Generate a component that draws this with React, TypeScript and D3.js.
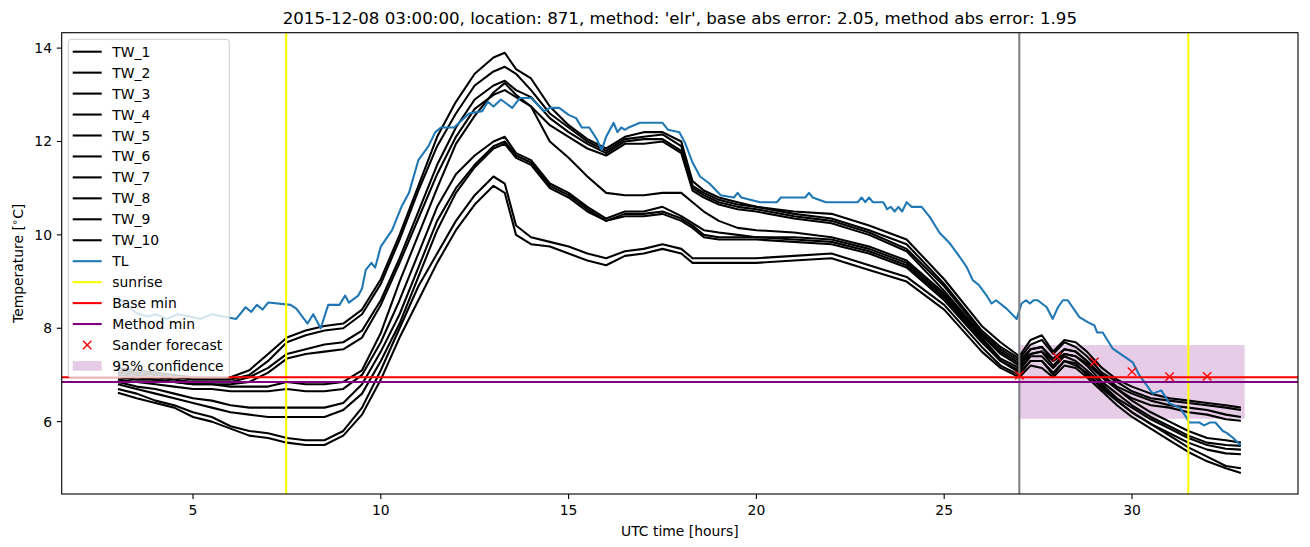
import React from "react";
import * as d3 from "d3";

// ---------- data ----------
const hours = [
  3, 3.5, 4, 4.5, 5, 5.5, 6, 6.5, 7, 7.5,
  8, 8.5, 9, 9.5, 10, 10.5, 11, 11.5, 12, 12.5,
  13, 13.3, 13.6, 14, 14.5, 15, 15.5, 16, 16.5, 17,
  17.5, 18, 18.3, 18.6, 19, 19.5, 20, 21, 22, 23,
  24, 25, 26, 26.5, 27, 27.3, 27.6, 27.9, 28.2, 28.5,
  28.8, 29.2, 29.6, 30, 30.5, 31, 31.5, 32, 32.5, 32.9,
];

const TW_1 = [
  7.15, 7.1, 7.05, 7.0, 6.95, 6.95, 6.95, 7.1, 7.45, 7.8,
  7.95, 8.05, 8.1, 8.4, 9.05, 10.0, 11.05, 12.1, 12.85, 13.45,
  13.8, 13.9, 13.55, 13.35, 12.75, 12.35, 12.05, 11.85, 12.1, 12.2,
  12.2, 12.0, 11.15, 10.95, 10.8, 10.7, 10.6, 10.5, 10.45, 10.2,
  9.9, 9.05, 8.05, 7.7, 7.4, 7.75, 7.85, 7.5, 7.75, 7.7,
  7.5, 7.15, 6.9, 6.75, 6.6, 6.5, 6.45, 6.4, 6.35, 6.3,
];
const TW_2 = [
  7.1, 7.05, 7.0, 6.95, 6.9, 6.9, 6.9, 7.0, 7.3, 7.7,
  7.85, 7.95, 8.0, 8.3, 8.95, 9.9, 10.95, 11.9, 12.6, 13.2,
  13.5, 13.6, 13.45, 13.1, 12.6, 12.3, 12.0, 11.8, 12.05, 12.1,
  12.15, 11.9, 11.05, 10.9, 10.75, 10.65, 10.6, 10.45, 10.35, 10.1,
  9.8, 8.95, 7.95, 7.6, 7.35, 7.65, 7.75, 7.45, 7.7, 7.6,
  7.4, 7.05, 6.85, 6.65, 6.5, 6.45, 6.4, 6.35, 6.3, 6.25,
];
const TW_3 = [
  7.05, 7.0, 6.95, 6.9, 6.85, 6.85, 6.85, 6.95, 7.15, 7.45,
  7.55, 7.65, 7.7, 7.95, 8.6, 9.5, 10.5, 11.5, 12.3, 12.9,
  13.2, 13.3, 13.1, 12.95, 12.5, 12.2, 11.95, 11.75, 12.0, 12.05,
  12.05, 11.8, 11.0, 10.85, 10.7, 10.6, 10.55, 10.4, 10.3, 10.05,
  9.7, 8.9, 7.9, 7.55, 7.3, 7.55, 7.6, 7.35, 7.55, 7.5,
  7.3, 7.0, 6.75, 6.6, 6.45, 6.35, 6.3, 6.25, 6.15, 6.1,
];
const TW_4 = [
  7.0, 6.95, 6.9, 6.85, 6.8, 6.8, 6.8, 6.85, 7.05, 7.35,
  7.45, 7.5, 7.55, 7.8, 8.5, 9.4, 10.35, 11.3, 12.1, 12.7,
  13.0, 13.1, 12.95, 12.75, 12.35, 12.1, 11.85, 11.7, 11.95, 11.95,
  12.0, 11.75, 10.95, 10.8, 10.65, 10.55, 10.5, 10.35, 10.25, 10.0,
  9.65, 8.8, 7.85, 7.5, 7.25, 7.45, 7.5, 7.3, 7.45, 7.4,
  7.25, 6.95, 6.7, 6.5, 6.35, 6.3, 6.2, 6.15, 6.05, 6.02,
];
const TW_5 = [
  6.95, 6.9, 6.9, 6.85, 6.8, 6.8, 6.75, 6.75, 6.75, 6.85,
  6.8, 6.8, 6.85, 7.1, 7.9, 9.0, 10.0, 11.0, 11.95, 12.55,
  13.05, 13.25, 13.0, 12.75, 12.0, 11.65, 11.25, 10.9, 10.85, 10.85,
  10.9, 10.9, 10.7, 10.5, 10.3, 10.15, 10.1, 10.05, 9.95, 9.75,
  9.45, 8.75, 7.85, 7.45, 7.2, 7.55, 7.6, 7.3, 7.55, 7.5,
  7.3, 6.95, 6.7, 6.45, 6.2, 6.0, 5.8, 5.65, 5.6, 5.55,
];
const TW_6 = [
  6.9, 6.85, 6.8, 6.75, 6.7, 6.7, 6.65, 6.65, 6.65, 6.7,
  6.65, 6.65, 6.7, 7.0, 7.7, 8.6, 9.6, 10.6, 11.3, 11.7,
  12.0, 12.1, 11.75, 11.6, 11.1, 10.9, 10.6, 10.35, 10.5, 10.5,
  10.6, 10.4, 10.25, 10.1, 10.05, 10.0, 9.95, 9.95, 9.9, 9.7,
  9.4, 8.7, 7.8, 7.35, 7.15, 7.45, 7.5, 7.2, 7.45, 7.4,
  7.2, 6.85, 6.6, 6.35, 6.1, 5.9, 5.7, 5.55, 5.5, 5.48,
];
const TW_7 = [
  6.85, 6.75, 6.7, 6.6, 6.5, 6.45, 6.35, 6.3, 6.3, 6.3,
  6.3, 6.3, 6.4, 6.8, 7.5, 8.3, 9.3, 10.3, 11.0, 11.5,
  11.9, 12.0, 11.7, 11.55, 11.05, 10.85, 10.55, 10.3, 10.45, 10.45,
  10.5, 10.35, 10.2, 10.0, 9.95, 9.95, 9.95, 9.9, 9.85, 9.65,
  9.35, 8.65, 7.75, 7.3, 7.1, 7.4, 7.4, 7.15, 7.4, 7.3,
  7.1, 6.8, 6.5, 6.3, 6.05, 5.85, 5.65, 5.5, 5.42, 5.4,
];
const TW_8 = [
  6.8, 6.7, 6.6, 6.5, 6.4, 6.3, 6.2, 6.15, 6.1, 6.1,
  6.1, 6.1, 6.25, 6.6, 7.3, 8.1, 9.1, 10.1, 10.9, 11.45,
  11.85, 11.95, 11.65, 11.5, 11.0, 10.8, 10.5, 10.3, 10.4, 10.4,
  10.45, 10.3, 10.15, 9.95, 9.9, 9.9, 9.9, 9.85, 9.8, 9.6,
  9.3, 8.6, 7.7, 7.3, 7.05, 7.3, 7.3, 7.05, 7.3, 7.2,
  7.05, 6.7, 6.45, 6.2, 5.95, 5.75, 5.55, 5.4, 5.32, 5.3,
];
const TW_9 = [
  6.7, 6.6, 6.45, 6.35, 6.2, 6.1, 5.9, 5.8, 5.75, 5.65,
  5.6, 5.6, 5.8, 6.3, 7.1, 8.0, 8.9, 9.6, 10.3, 10.85,
  11.25, 11.1, 10.2, 9.95, 9.85, 9.75, 9.6, 9.5, 9.65, 9.7,
  9.8, 9.7, 9.5, 9.5, 9.5, 9.5, 9.5, 9.55, 9.6, 9.35,
  9.1, 8.5, 7.6, 7.2, 7.0, 7.3, 7.3, 7.0, 7.3, 7.25,
  7.0, 6.75, 6.45, 6.2, 5.95, 5.7, 5.45, 5.25, 5.05, 5.0,
];
const TW_10 = [
  6.62, 6.5, 6.4, 6.3, 6.1, 6.0, 5.85, 5.7, 5.65, 5.55,
  5.5, 5.5, 5.7, 6.15, 6.9, 7.8, 8.6, 9.4, 10.1, 10.65,
  11.05, 10.9, 10.0, 9.8, 9.75, 9.6, 9.45, 9.35, 9.55, 9.6,
  9.7, 9.6, 9.4, 9.4, 9.4, 9.4, 9.4, 9.45, 9.5, 9.25,
  9.0, 8.4, 7.5, 7.15, 6.95, 7.2, 7.15, 6.95, 7.2, 7.15,
  6.95, 6.65, 6.35, 6.1, 5.85, 5.6, 5.35, 5.15, 5.0, 4.9,
];
const twSeries = [TW_1, TW_2, TW_3, TW_4, TW_5, TW_6, TW_7, TW_8, TW_9, TW_10];
const twNames = ["TW_1", "TW_2", "TW_3", "TW_4", "TW_5", "TW_6", "TW_7", "TW_8", "TW_9", "TW_10"];

const tlHours = [
  3.0, 3.3, 3.5, 3.8, 4.0, 4.3, 4.6, 4.9, 5.2, 5.5,
  5.8, 6.15, 6.4, 6.55, 6.7, 6.85, 7.0, 7.6, 7.75, 8.05,
  8.2, 8.4, 8.6, 8.9, 9.05, 9.15, 9.4, 9.5, 9.6, 9.75,
  9.85, 10.0, 10.3, 10.55, 10.75, 11.0, 11.27, 11.45, 11.6, 11.95,
  12.15, 12.35, 12.7, 12.85, 13.0, 13.2, 13.5, 13.7, 14.0, 14.35,
  14.5, 14.75, 15.0, 15.2, 15.35, 15.55, 15.75, 15.88, 16.0, 16.2,
  16.3, 16.4, 16.5, 16.6, 16.9, 17.5, 17.65, 17.95, 18.1, 18.3,
  18.5, 18.75, 19.05, 19.4, 19.5, 19.6, 20.1, 20.55, 20.65, 21.3,
  21.4, 21.5, 21.85, 22.7, 22.8, 22.9, 23.0, 23.1, 23.38, 23.48,
  23.58, 23.68, 23.78, 23.88, 24.0, 24.13, 24.4, 24.62, 24.88, 25.15,
  25.42, 25.6, 25.76, 25.93, 26.13, 26.26, 26.38, 26.66, 26.93, 27.06,
  27.18, 27.28, 27.38, 27.49, 27.73, 27.89, 28.03, 28.16, 28.29, 28.6,
  28.82, 29.0, 29.07, 29.22, 29.48, 29.75, 30.02, 30.2, 30.55, 30.78,
  31.0, 31.27, 31.45, 31.52, 31.8, 31.92, 32.07, 32.22, 32.42, 32.52,
  32.68, 32.9,
];
const tlValues = [
  8.66, 8.45, 8.32, 8.25, 8.3, 8.2, 8.3, 8.25, 8.2, 8.3,
  8.25, 8.2, 8.45, 8.35, 8.5, 8.4, 8.55, 8.5, 8.42, 8.1,
  8.3, 8.0, 8.5, 8.5, 8.7, 8.55, 8.7, 8.85, 9.25, 9.4,
  9.3, 9.75, 10.1, 10.6, 10.9, 11.6, 11.9, 12.2, 12.3, 12.3,
  12.45, 12.6, 12.65, 12.85, 12.75, 12.9, 12.72, 12.93, 12.93, 12.65,
  12.72, 12.72, 12.57, 12.5, 12.3, 12.3, 12.05, 11.82, 12.1, 12.4,
  12.2, 12.3, 12.25, 12.3, 12.4, 12.4, 12.25, 12.2, 11.97, 11.55,
  11.25, 11.1, 10.85, 10.8, 10.9, 10.8, 10.7, 10.7, 10.8, 10.8,
  10.9, 10.8, 10.7, 10.7, 10.8, 10.7, 10.8, 10.7, 10.7, 10.55,
  10.6, 10.5, 10.6, 10.5, 10.7, 10.6, 10.6, 10.38, 10.04, 9.82,
  9.52, 9.31, 9.03, 8.92, 8.7, 8.53, 8.6, 8.42, 8.2, 8.53,
  8.6, 8.53, 8.6, 8.6, 8.45, 8.2, 8.45, 8.6, 8.6, 8.24,
  8.13, 8.06, 7.91, 7.91, 7.57, 7.42, 7.27, 6.99, 6.6, 6.67,
  6.39, 6.3, 6.09, 5.98, 5.98, 5.92, 5.98, 5.98, 5.8, 5.76,
  5.66, 5.49,
];

const sunriseHours = [7.48, 31.5];
const forecastHour = 27;
const baseMin = 6.95;
const methodMin = 6.85;
const sanderHours = [27, 28, 29, 30, 31, 32];
const sanderValues = [6.99, 7.39, 7.28, 7.07, 6.96, 6.97];
const confHours = [27, 33];
const confLow = 6.06;
const confHigh = 7.64;
const xTicks = [5, 10, 15, 20, 25, 30];
const yTicks = [6, 8, 10, 12, 14];

const TITLE = "2015-12-08 03:00:00, location: 871, method: 'elr', base abs error: 2.05, method abs error: 1.95";

// ---------- layout ----------
const W = 1310;
const H = 547;
const L = 61.7, R = 1298, T = 32.7, B = 494;
const FONT = "DejaVu Sans";
const TL_COLOR = "#1f77b4";

export default function App() {
  const x = d3.scaleLinear().domain([1.504, 34.42]).range([L, R]);
  const y = d3.scaleLinear().domain([4.45, 14.33]).range([B, T]);
  const line = d3
    .line<[number, number]>()
    .x((d) => x(d[0]))
    .y((d) => y(d[1]));

  const twPaths = twSeries.map((s) => line(hours.map((h, i) => [h, s[i]]))!);
  const tlPath = line(tlHours.map((h, i) => [h, tlValues[i]]))!;

  const legendItems: { label: string; kind: string; color: string }[] = [
    ...twNames.map((n) => ({ label: n, kind: "line", color: "black" })),
    { label: "TL", kind: "line", color: TL_COLOR },
    { label: "sunrise", kind: "line", color: "yellow" },
    { label: "Base min", kind: "line", color: "red" },
    { label: "Method min", kind: "line", color: "purple" },
    { label: "Sander forecast", kind: "x", color: "red" },
    { label: "95% confidence", kind: "patch", color: "purple" },
  ];
  const legX0 = 68.3, legY0 = 39.3, legW = 161, legH = 338.4;
  const entryY0 = 51.7, entryDy = 20.95;

  const ms = 4.2;
  const xMark = (cx: number, cy: number, key: string, color: string) => (
    <g key={key} stroke={color} strokeWidth={1.4}>
      <line x1={cx - ms} y1={cy - ms} x2={cx + ms} y2={cy + ms} />
      <line x1={cx - ms} y1={cy + ms} x2={cx + ms} y2={cy - ms} />
    </g>
  );

  return (
    <svg
      width={W}
      height={H}
      style={{ position: "absolute", left: 0, top: 0, display: "block", background: "white" }}
      fontFamily={FONT}
    >
      <rect x={0} y={0} width={W} height={H} fill="white" />
      <defs>
        <clipPath id="plot">
          <rect x={L} y={T} width={R - L} height={B - T} />
        </clipPath>
      </defs>
      <g clipPath="url(#plot)">
        {/* confidence band */}
        <rect
          x={x(confHours[0])}
          y={y(confHigh)}
          width={x(confHours[1]) - x(confHours[0])}
          height={y(confLow) - y(confHigh)}
          fill="purple"
          fillOpacity={0.2}
        />
        {twPaths.map((p, i) => (
          <path key={i} d={p} fill="none" stroke="black" strokeWidth={2.08} strokeLinejoin="round" />
        ))}
        <path d={tlPath} fill="none" stroke={TL_COLOR} strokeWidth={2.08} strokeLinejoin="round" />
        <line x1={x(forecastHour)} x2={x(forecastHour)} y1={T} y2={B} stroke="grey" strokeWidth={2.08} />
        {sunriseHours.map((h, i) => (
          <line key={i} x1={x(h)} x2={x(h)} y1={T} y2={B} stroke="yellow" strokeWidth={2.08} />
        ))}
        <line x1={L} x2={R} y1={y(baseMin)} y2={y(baseMin)} stroke="red" strokeWidth={2.08} />
        <line x1={L} x2={R} y1={y(methodMin)} y2={y(methodMin)} stroke="purple" strokeWidth={2.08} />
        {sanderHours.map((h, i) => xMark(x(h), y(sanderValues[i]), "s" + i, "red"))}
      </g>

      {/* axes frame */}
      <rect x={L} y={T} width={R - L} height={B - T} fill="none" stroke="black" strokeWidth={1.1} />

      {/* x ticks */}
      {xTicks.map((t) => (
        <g key={"x" + t}>
          <line x1={x(t)} x2={x(t)} y1={B} y2={B + 4.9} stroke="black" strokeWidth={1.1} />
          <text x={x(t)} y={B + 20.5} textAnchor="middle" fontSize={13.9} fill="black">
            {t}
          </text>
        </g>
      ))}
      {/* y ticks */}
      {yTicks.map((t) => (
        <g key={"y" + t}>
          <line x1={L - 4.9} x2={L} y1={y(t)} y2={y(t)} stroke="black" strokeWidth={1.1} />
          <text x={L - 9.7} y={y(t) + 5} textAnchor="end" fontSize={13.9} fill="black">
            {t}
          </text>
        </g>
      ))}

      {/* axis labels */}
      <text x={(L + R) / 2} y={536} textAnchor="middle" fontSize={13.9} fill="black">
        UTC time [hours]
      </text>
      <text transform={`translate(23, ${(T + B) / 2}) rotate(-90)`} textAnchor="middle" fontSize={13.9} fill="black">
        Temperature [<tspan dy={-5} fontSize={10}>∘</tspan>
        <tspan dy={5}>C]</tspan>
      </text>

      {/* title */}
      <text x={(L + R) / 2} y={23.5} textAnchor="middle" fontSize={16.67} fill="black">
        {TITLE}
      </text>

      {/* legend */}
      <rect
        x={legX0}
        y={legY0}
        width={legW}
        height={legH}
        rx={3}
        ry={3}
        fill="white"
        fillOpacity={0.8}
        stroke="#cccccc"
        strokeWidth={1}
      />
      {legendItems.map((it, i) => {
        const cy = entryY0 + i * entryDy;
        let handle: React.ReactNode = null;
        if (it.kind === "line") {
          handle = <line x1={72.7} x2={101.7} y1={cy} y2={cy} stroke={it.color} strokeWidth={2.08} />;
        } else if (it.kind === "x") {
          handle = xMark(87.2, cy, "lx", it.color);
        } else {
          handle = <rect x={72.7} y={cy - 4.9} width={29} height={9.7} fill={it.color} fillOpacity={0.2} />;
        }
        return (
          <g key={"leg" + i}>
            {handle}
            <text x={112.3} y={cy + 5} fontSize={13.9} fill="black">
              {it.label}
            </text>
          </g>
        );
      })}
    </svg>
  );
}
